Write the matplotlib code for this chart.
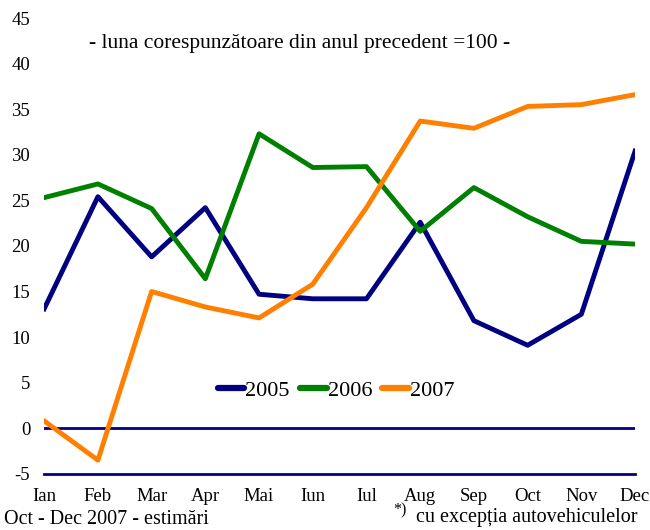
import matplotlib.pyplot as plt
import numpy as np

plt.rcParams['font.family'] = ['Liberation Serif', 'DejaVu Serif']
plt.rcParams['axes.unicode_minus'] = False

# data
luni = ['Ian', 'Feb', 'Mar', 'Apr', 'Mai', 'Iun', 'Iul', 'Aug', 'Sep', 'Oct', 'Nov', 'Dec']
v2005 = [13.1, 25.4, 18.8, 24.2, 14.7, 14.2, 14.2, 22.6, 11.8, 9.1, 12.5, 30.4]
v2006 = [25.3, 26.8, 24.1, 16.4, 32.3, 28.6, 28.7, 21.6, 26.4, 23.2, 20.5, 20.2]
v2007 = [0.8, -3.5, 15.0, 13.3, 12.1, 15.8, 24.2, 33.7, 32.9, 35.3, 35.5, 36.6]
yticks = [-5, 0, 5, 10, 15, 20, 25, 30, 35, 40, 45]

x = np.arange(len(luni))

fig = plt.figure(figsize=(6.5, 5.3), dpi=100)
ax = fig.add_axes([0.068, 0.106, 0.909, 0.86])

ax.axhline(0, color='#000080', lw=2, zorder=1)
ax.axhline(-5, color='#000080', lw=2, zorder=1, clip_on=False)

ax.plot(x, v2005, color='#000080', lw=3.5, label='2005')
ax.plot(x, v2006, color='#008000', lw=3.5, label='2006')
ax.plot(x, v2007, color='#FF8000', lw=3.5, label='2007')

ax.set_xlim(0, 11)
ax.set_ylim(-5, 45)
ax.set_xticks(x)
ax.set_xticklabels(luni)
ax.set_yticks(yticks)
ax.tick_params(length=0, labelsize=13.5)
ax.tick_params(axis='y', pad=10)
ax.tick_params(axis='x', pad=10)
for s in ax.spines.values():
    s.set_visible(False)

leg = ax.legend(loc='center', bbox_to_anchor=(0.494, 0.182), ncol=3, frameon=False,
                fontsize=16, handlelength=1.2, handletextpad=0.05, columnspacing=0.45)
for h in leg.get_lines():
    h.set_linewidth(4.5)
    h.set_solid_capstyle('round')

ax.text(0.075, 0.935, '- luna corespunzătoare din anul precedent =100 -',
        transform=ax.transAxes, fontsize=15.5)

fig.text(0.006, 0.012, 'Oct - Dec 2007 - estimări', fontsize=14.5)
fig.text(0.98, 0.015, 'cu excepția autovehiculelor', fontsize=14.5, ha='right')
fig.text(0.605, 0.03, '*)', fontsize=11.5)

fig.savefig('out.png', dpi=100)
